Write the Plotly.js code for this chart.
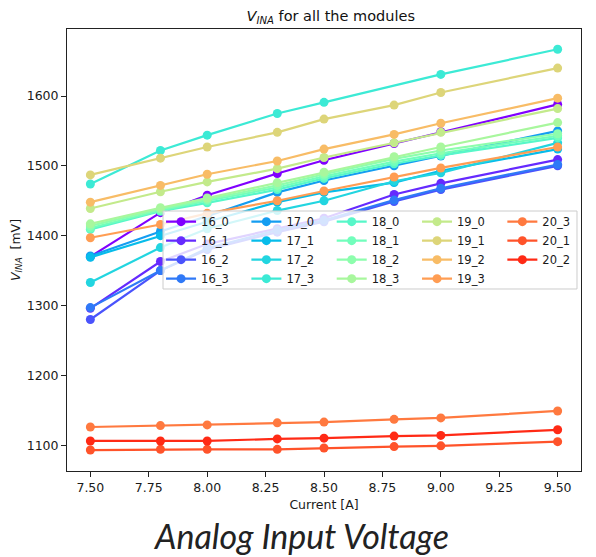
<!DOCTYPE html>
<html>
<head>
<meta charset="utf-8">
<script src="https://cdn.plot.ly/plotly-3.0.1.min.js"></script>
<style>
html,body{margin:0;padding:0;background:#fff;}
#chart{width:596px;height:557px;}
</style>
</head>
<body>
<div id="chart"></div>
<script>
// Current [A]
const currents = [7.5, 7.8, 8.0, 8.3, 8.5, 8.8, 9.0, 9.5];

// Module labels (in plotting order)
const labels = ["16_0","16_1","16_2","16_3","17_0","17_1","17_2","17_3",
                "18_0","18_1","18_2","18_3","19_0","19_1","19_2","19_3",
                "20_3","20_1","20_2"];

// V_INA [mV] per module
const v16_0 = [1370, 1433, 1458, 1489, 1508, 1532, 1549, 1588];
const v16_1 = [1296, 1363, 1388, 1410, 1425, 1459, 1475, 1509];
const v16_2 = [1280, 1350, 1380, 1405, 1420, 1449, 1466, 1500];
const v16_3 = [1297, 1350, 1382, 1408, 1422, 1451, 1468, 1502];
const v17_0 = [1371, 1406, 1428, 1462, 1479, 1500, 1514, 1550];
const v17_1 = [1369, 1400, 1420, 1448, 1462, 1476, 1493, 1524];
const v17_2 = [1333, 1383, 1410, 1436, 1450, 1478, 1490, 1533];
const v17_3 = [1474, 1522, 1544, 1575, 1591, null, 1631, 1667];
const v18_0 = [1409, 1435, 1447, 1466, 1482, 1503, 1515, 1540];
const v18_1 = [1411, 1436, 1450, 1469, 1485, 1506, 1518, 1543];
const v18_2 = [1414, 1438, 1452, 1472, 1488, 1510, 1522, 1546];
const v18_3 = [1417, 1440, 1454, 1476, 1491, 1513, 1527, 1562];
const v19_0 = [1439, 1463, 1477, 1496, 1512, 1533, 1548, 1582];
const v19_1 = [1487, 1511, 1527, 1548, 1567, 1587, 1605, 1640];
const v19_2 = [1448, 1472, 1488, 1507, 1524, 1545, 1561, 1597];
const v19_3 = [1397, 1416, 1432, 1450, 1464, 1484, 1497, 1527];
const v20_3 = [1126, 1128, 1129, 1132, 1133, 1137, 1139, 1149];
const v20_1 = [1093, 1094, 1094, 1094, 1096, 1098, 1099, 1105];
const v20_2 = [1106, 1106, 1106, 1109, 1110, 1113, 1114, 1122];

const series = [v16_0,v16_1,v16_2,v16_3,v17_0,v17_1,v17_2,v17_3,
                v18_0,v18_1,v18_2,v18_3,v19_0,v19_1,v19_2,v19_3,
                v20_3,v20_1,v20_2];

// matplotlib "rainbow" colormap, sampled at i/19
function rainbow(x){
  const r = Math.min(1, Math.abs(2*x - 0.5));
  const g = Math.sin(Math.PI * x);
  const b = Math.cos(Math.PI * x / 2);
  return `rgb(${Math.round(r*255)},${Math.round(g*255)},${Math.round(b*255)})`;
}

// one legend column per board
const boards = ["16","17","18","19","20"];
const legendIds = ["legend","legend2","legend3","legend4","legend5"];

const traces = labels.map((lab, i) => {
  const col = boards.indexOf(lab.split("_")[0]);
  const c = rainbow(i / 19);
  return {
    x: currents, y: series[i], name: lab,
    type: "scatter", mode: "lines+markers",
    connectgaps: true,
    line: {color: c, width: 2.2},
    marker: {color: c, size: 9},
    legend: legendIds[col]
  };
});

const font = "DejaVu Sans, sans-serif";
const legendFont = {family: font, size: 11.5, color: "#1a1a1a"};

const layout = {
  width: 596, height: 557,
  paper_bgcolor: "#fff", plot_bgcolor: "#fff",
  margin: {l: 67, r: 15, t: 29, b: 86},
  font: {family: font, size: 12.5, color: "#1a1a1a"},
  showlegend: true,
  title: {
    text: "<i>V<sub>INA</sub></i> for all the modules",
    font: {family: font, size: 14.5, color: "#111"},
    x: 0.555, xanchor: "center", y: 0.972, yanchor: "middle"
  },
  xaxis: {
    range: [7.4, 9.6],
    tickmode: "array",
    tickvals: [7.5, 7.75, 8.0, 8.25, 8.5, 8.75, 9.0, 9.25, 9.5],
    tickformat: ".2f",
    ticks: "outside", ticklen: 5, tickcolor: "#222", tickwidth: 1,
    showline: true, linecolor: "#222", linewidth: 1, mirror: true,
    showgrid: false, zeroline: false,
    title: {text: "Current [A]", font: {family: font, size: 12.5}, standoff: 6}
  },
  yaxis: {
    range: [1063, 1696],
    tickmode: "array",
    tickvals: [1100, 1200, 1300, 1400, 1500, 1600],
    ticks: "outside", ticklen: 5, tickcolor: "#222", tickwidth: 1,
    showline: true, linecolor: "#222", linewidth: 1, mirror: true,
    showgrid: false, zeroline: false,
    title: {text: "<i>V<sub>INA</sub></i>  [mV]", font: {family: font, size: 12.5}, standoff: 3}
  },
  shapes: [{
    type: "rect", xref: "paper", yref: "paper", layer: "above",
    x0: 0.1868, x1: 0.9922, y0: 0.4118, y1: 0.5882,
    fillcolor: "rgba(255,255,255,0.8)",
    line: {color: "#cccccc", width: 1}
  }],
  annotations: [{
    text: "<i>Analog Input Voltage</i>",
    xref: "paper", yref: "paper",
    x: 0.455, y: -0.147, xanchor: "center", yanchor: "middle",
    showarrow: false,
    font: {family: "Lato, sans-serif", size: 34, color: "#222"}
  }]
};

legendIds.forEach((id, k) => {
  layout[id] = {
    orientation: "v",
    x: 0.183 + k * 0.166, xanchor: "left",
    y: 0.597, yanchor: "top",
    bgcolor: "rgba(0,0,0,0)",
    borderwidth: 0,
    font: legendFont,
    traceorder: "normal",
    itemwidth: 30
  };
});

Plotly.newPlot("chart", traces, layout, {displayModeBar: false, staticPlot: true});
</script>
</body>
</html>
